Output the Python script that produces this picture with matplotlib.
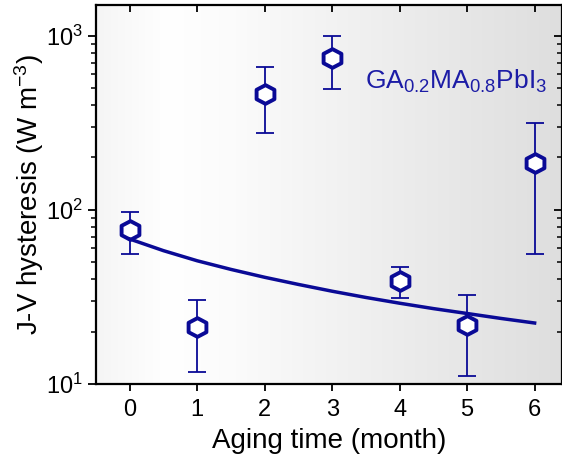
import numpy as np
import matplotlib
matplotlib.use("Agg")
import matplotlib.pyplot as plt
from matplotlib.colors import LinearSegmentedColormap
from matplotlib.path import Path

plt.rcParams['font.family'] = ['Liberation Sans', 'DejaVu Sans']
plt.rcParams['mathtext.fontset'] = 'custom'
plt.rcParams['mathtext.rm'] = 'Liberation Sans'
plt.rcParams['mathtext.it'] = 'Liberation Sans:italic'
plt.rcParams['mathtext.bf'] = 'Liberation Sans:bold'

# hysteresis vs aging time
months = [0, 1, 2, 3, 4, 5, 6]
hyst = [76.7, 21.3, 464, 748, 39.1, 21.8, 186]
err_hi = [97.5, 30.4, 663, 1000, 47.0, 32.5, 316]
err_lo = [55.9, 11.7, 277, 496, 31.2, 11.1, 55.9]

# fitted decay curve
fit_t = [0, 0.5, 1, 1.5, 2, 2.5, 3, 3.5, 4, 4.5, 5, 5.5, 6]
fit_y = [68.0, 58.3, 51.0, 45.5, 41.0, 37.3, 34.1, 31.4, 29.1, 27.1, 25.4, 23.8, 22.4]

navy = '#0a0a96'

# wide hexagon, pointed top and bottom
hexagon = Path([(0, 1), (0.95, 0.5), (0.95, -0.5), (0, -1), (-0.95, -0.5),
                (-0.95, 0.5), (0, 1)], closed=True)

fig = plt.figure(figsize=(5.62, 4.59), dpi=100)
ax = fig.add_axes([0.1708, 0.1634, 0.8285, 0.8256])

# grey shading across the panel
shade = LinearSegmentedColormap.from_list(
    'shade', [(0, '#f5f5f5'), (0.15, '#ffffff'), (0.3, '#fbfbfb'), (1, '#dedede')])
grad = np.linspace(0, 1, 256).reshape(1, -1)
ax.imshow(grad, cmap=shade, aspect='auto', extent=[0, 1, 0, 1],
          transform=ax.transAxes, zorder=0)

ax.set_yscale('log')
ax.set_xlim(-0.5, 6.4)
ax.set_ylim(10, 1500)

yerr = [np.array(hyst) - np.array(err_lo), np.array(err_hi) - np.array(hyst)]
ax.errorbar(months, hyst, yerr=yerr, fmt='none', ecolor=navy, elinewidth=1.3,
            capsize=6.5, capthick=1.3, zorder=3)
ax.plot(months, hyst, linestyle='none', marker=hexagon, ms=13.5, mfc='white',
        mec=navy, mew=2.8, zorder=4)
ax.plot(fit_t, fit_y, color=navy, lw=2.5, zorder=5)

ax.text(3.48, 545, r'GA$_{0.2}$MA$_{0.8}$PbI$_3$', color='#1c1ca6',
        fontsize=19, va='center', ha='left')

ax.set_xticks(months)
ax.set_xlabel('Aging time (month)', fontsize=20, labelpad=5)
ax.set_ylabel(r'J-V hysteresis (W m$^{-3}$)', fontsize=20, labelpad=0)

ax.tick_params(axis='both', which='major', labelsize=17, width=1.3, length=6)
ax.tick_params(axis='y', which='minor', width=1.1, length=3.5)
ax.tick_params(axis='x', which='both', top=True, direction='out', pad=6)
ax.tick_params(axis='y', which='both', right=True)
ax.tick_params(axis='x', which='major', length=5)
for t in ax.xaxis.get_major_ticks():
    t.tick2line.set_marker(3)
ax.tick_params(axis='y', which='both', direction='out')
for t in ax.yaxis.get_major_ticks() + ax.yaxis.get_minor_ticks():
    t.tick2line.set_marker(0)

for s in ax.spines.values():
    s.set_linewidth(1.6)

fig.savefig('out.png', dpi=100)
